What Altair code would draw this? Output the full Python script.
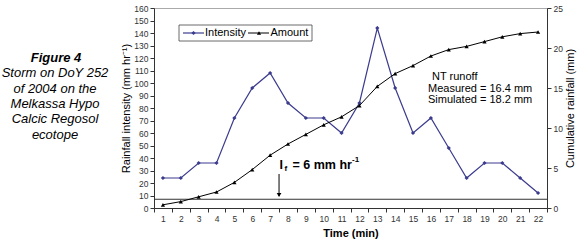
import altair as alt
import pandas as pd

# ---- data ----
minutes = list(range(1, 23))
intensity = [24, 24, 36, 36, 72, 96, 108, 84, 72, 72, 60, 84, 144, 96, 60, 72, 48, 24, 36, 36, 24, 12]
amount = [0.4, 0.8, 1.4, 2.0, 3.2, 4.8, 6.6, 8.0, 9.2, 10.4, 11.4, 12.8, 15.2, 16.8,
          17.8, 19.0, 19.8, 20.2, 20.8, 21.4, 21.8, 22.0]
infiltration_level = 7          # horizontal If line (left axis units)
arrow_minute = [7.5]            # arrow position on the time axis
x_tick_values = [m - 0.5 for m in minutes] + minutes + [22.5]
left_ticks = list(range(0, 161, 10))
right_ticks = list(range(0, 26, 5))

NAVY = "#3b3b8e"
FONT = "Liberation Sans"

df = pd.DataFrame({"minute": minutes, "intensity": intensity, "amount": amount})
arrow_df = pd.DataFrame({"minute": arrow_minute})
one = pd.DataFrame({"k": [0]})

x_axis = alt.Axis(
    values=sorted(x_tick_values),
    labelExpr="datum.value % 1 == 0 ? format(datum.value, 'd') : ''",
    tickOpacity={"condition": {"test": "datum.value % 1 == 0", "value": 0}, "value": 1},
    title="Time (min)", titleFontWeight="bold", titleFontSize=11, titlePadding=5,
    labelFontSize=8.5, labelColor="#333", labelPadding=2, tickSize=4,
    labelFlush=False, labelOverlap=False, grid=False,
    domainColor="#333", tickColor="#333",
)
x_enc = alt.X("minute:Q", scale=alt.Scale(domain=[0.5, 22.5], nice=False, zero=False), axis=x_axis)

left_axis = alt.Axis(
    values=left_ticks, format="d", title="Rainfall intensity (mm hr\u207b\u00b9)",
    titleFontWeight="normal", titleFontSize=11, titlePadding=2,
    labelFontSize=8.5, labelColor="#333", labelPadding=2, tickSize=4, grid=False,
    labelOverlap=False, labelFlush=False,
    domainColor="#333", tickColor="#333",
)
right_axis = alt.Axis(
    values=right_ticks, format="d", orient="right", title="Cumulative rainfall (mm)",
    titleFontWeight="normal", titleFontSize=11, titlePadding=2, titleAngle=270,
    titleBaseline="top",
    labelFontSize=8.5, labelColor="#333", labelPadding=2, tickSize=4, grid=False,
    labelOverlap=False, labelFlush=False,
    domainColor="#333", tickColor="#333",
)
left_scale = alt.Scale(domain=[0, 160], nice=False)
y_left = alt.Y("intensity:Q", scale=left_scale, axis=left_axis)
y_right = alt.Y("amount:Q", scale=alt.Scale(domain=[0, 25], nice=False), axis=right_axis)

intensity_line = alt.Chart(df).mark_line(
    color=NAVY, strokeWidth=1.2,
    point=alt.OverlayMarkDef(shape="diamond", size=18, filled=True, color=NAVY),
).encode(x=x_enc, y=y_left)

if_rule = alt.Chart(one).mark_rule(color="#333", strokeWidth=1).encode(
    y=alt.YDatum(infiltration_level, scale=left_scale, axis=left_axis)
)

arrow_shaft = alt.Chart(arrow_df).mark_rule(color="black", strokeWidth=1).encode(
    x=x_enc, y=alt.value(166), y2=alt.value(188)
)
arrow_head = alt.Chart(arrow_df).mark_point(
    shape="triangle-down", size=22, filled=True, color="black", opacity=1
).encode(x=x_enc, y=alt.value(187))


def txt(s, x, y, size=11, weight="normal", style="normal", align="left", color="black"):
    return alt.Chart(one).mark_text(
        font=FONT, fontSize=size, fontWeight=weight, fontStyle=style,
        align=align, baseline="middle", color=color,
    ).encode(x=alt.value(x), y=alt.value(y), text=alt.value(s))


# I_f label
if_label = [
    txt("I", 125.5, 157, size=12.5, weight="bold"),
    txt("f", 130.5, 161, size=8, weight="bold"),
    txt("= 6 mm hr", 138.5, 157, size=12.5, weight="bold"),
    txt("-1", 198, 152, size=8, weight="bold"),
]

# runoff annotation
runoff = [
    txt("NT runoff", 278, 69),
    txt("Measured = 16.4 mm", 274, 81),
    txt("Simulated = 18.2 mm", 274, 92),
]

# left caption
caption = [
    txt("Figure 4", -98, 50, size=13, weight="bold", style="italic", align="center"),
    txt("Storm on DoY 252", -99, 65, size=13, style="italic", align="center"),
    txt("of 2004 on the", -99, 80.5, size=13, style="italic", align="center"),
    txt("Melkassa Hypo", -99, 96, size=13, style="italic", align="center"),
    txt("Calcic Regosol", -99, 111, size=13, style="italic", align="center"),
    txt("ecotope", -99, 126.5, size=13, style="italic", align="center"),
]

# manual legend
legend_box = alt.Chart(one).mark_rect(fill="white", stroke="#444", strokeWidth=0.8).encode(
    x=alt.value(25), x2=alt.value(158), y=alt.value(17), y2=alt.value(33)
)
leg_int_line = alt.Chart(one).mark_rule(color=NAVY, strokeWidth=1.2).encode(
    x=alt.value(29), x2=alt.value(50), y=alt.value(25)
)
leg_int_pt = alt.Chart(one).mark_point(shape="diamond", size=18, filled=True, color=NAVY, opacity=1).encode(
    x=alt.value(39.5), y=alt.value(25)
)
leg_amt_line = alt.Chart(one).mark_rule(color="black", strokeWidth=1).encode(
    x=alt.value(94), x2=alt.value(115), y=alt.value(25)
)
leg_amt_pt = alt.Chart(one).mark_point(shape="triangle-up", size=18, filled=True, color="black", opacity=1).encode(
    x=alt.value(105), y=alt.value(25)
)
legend = [legend_box, leg_int_line, leg_int_pt, leg_amt_line, leg_amt_pt,
          txt("Intensity", 51, 25), txt("Amount", 116.5, 25)]

left = alt.layer(intensity_line, if_rule, arrow_shaft, arrow_head,
                 *if_label, *runoff, *caption, *legend)

amount_line = alt.Chart(df).mark_line(
    color="black", strokeWidth=1,
    point=alt.OverlayMarkDef(shape="triangle-up", size=18, filled=True, color="black"),
).encode(x=x_enc, y=y_right)

chart = (
    alt.layer(left, amount_line)
    .resolve_scale(y="independent")
    .properties(
        width=393, height=200, autosize="none",
        padding={"left": 154, "top": 8, "right": 33, "bottom": 36},
    )
    .configure(font=FONT)
    .configure_view(stroke="#aaa", strokeWidth=1)
)

chart.save("out.html", embed_options={"renderer": "svg", "actions": False})
